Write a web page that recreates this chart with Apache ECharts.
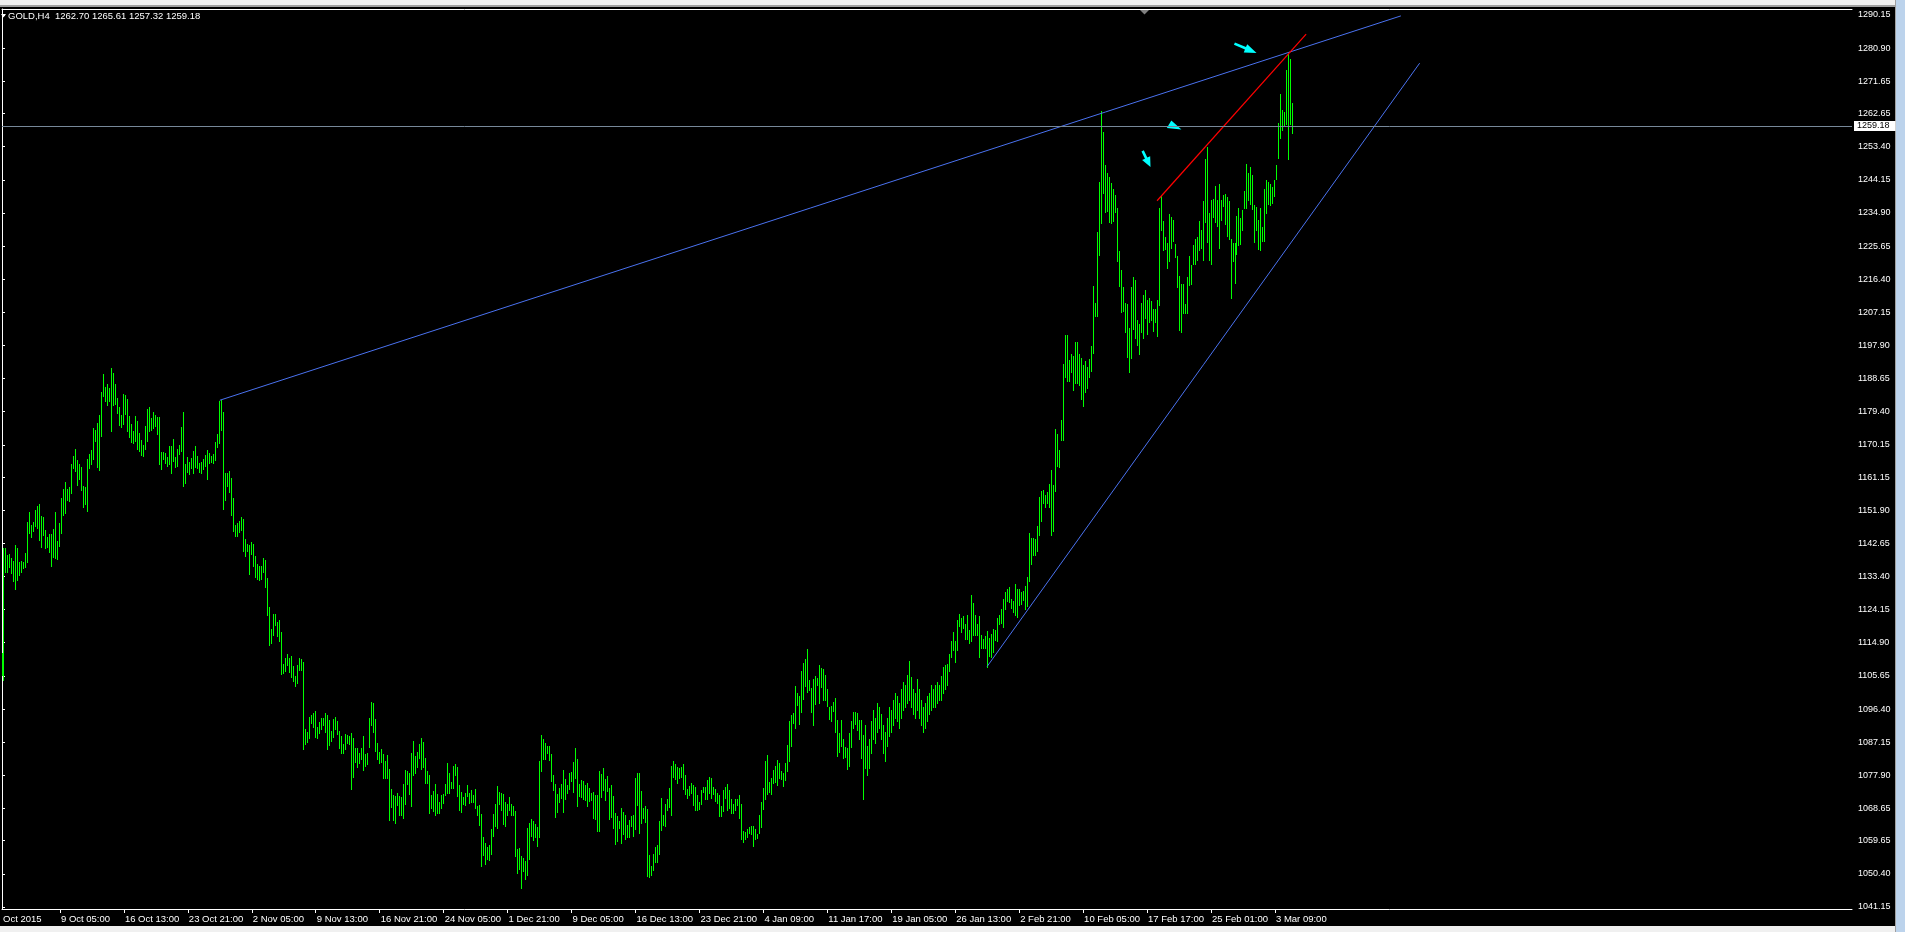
<!DOCTYPE html>
<html><head><meta charset="utf-8">
<script src="https://cdn.jsdelivr.net/npm/echarts@6/dist/echarts.min.js"></script>
<style>html,body{margin:0;padding:0;background:#000;overflow:hidden}#c{width:1905px;height:932px}</style>
</head><body><div id="c"></div>
<script>
// ---------- DATA ----------
const symbolName = 'GOLD,H4';
const lastBarOHLC = [1262.70, 1265.61, 1257.32, 1259.18];
const bidPrice = 1259.18;

// H4 bar highs / lows, bar index 0 = first visible bar
const highs = [
1111.9,1141.3,1141.3,1139.4,1139.7,1138.5,1137.7,1142.2,1141.4,1137.4,
1137.7,1137.4,1140.0,1148.6,1151.4,1147.8,1148.5,1152.0,1153.1,1153.6,
1150.3,1150.0,1146.4,1144.3,1145.3,1145.3,1146.7,1151.4,1143.3,1148.3,
1155.3,1157.8,1159.8,1157.8,1158.4,1164.8,1166.9,1169.0,1165.9,1164.8,
1164.0,1158.7,1158.4,1166.2,1167.6,1168.7,1174.9,1174.3,1176.3,1178.5,
1184.9,1189.9,1186.3,1187.1,1186.0,1191.6,1190.2,1187.1,1183.2,1180.7,
1178.5,1184.3,1184.1,1183.0,1178.2,1176.0,1174.0,1178.2,1176.8,1173.5,
1171.5,1170.1,1175.4,1180.2,1180.7,1177.6,1179.3,1178.5,1177.9,1177.9,
1168.2,1168.2,1167.9,1166.8,1169.8,1169.8,1171.8,1166.8,1169.0,1170.1,
1175.1,1179.3,1164.8,1166.8,1165.4,1166.5,1168.4,1169.8,1167.0,1165.1,
1165.4,1166.2,1167.3,1168.7,1167.9,1167.0,1167.6,1170.9,
1173.2,1182.5,1182.7,1179.3,1162.3,1162.3,1162.8,1160.9,1155.3,1147.8,
1148.3,1148.9,1150.0,1149.4,1143.9,1142.5,1142.2,1143.0,1142.5,1139.1,
1136.9,1136.3,1136.3,1138.6,1138.0,1133.0,1124.9,1118.7,1122.9,1122.9,
1120.7,1121.3,1117.9,1109.0,1110.6,1111.8,1110.6,1111.2,1108.4,1105.6,
1108.7,1110.6,1110.4,1109.5,1090.8,1090.0,1094.2,1094.7,1095.3,1095.8,
1091.4,1092.8,1093.9,1093.9,1095.3,1094.7,1093.3,1090.3,1093.6,1094.2,
1093.1,1090.3,1088.9,1086.6,1089.4,1089.1,1088.9,1089.7,1088.3,1085.5,
1085.5,1084.1,1085.5,1088.9,1083.8,1084.1,1093.9,1098.4,1098.1,1093.6,
1086.9,1084.5,1085.2,1083.9,1082.0,1083.7,1079.7,1074.2,1072.5,1072.1,
1073.0,1072.2,1071.9,1075.6,1079.4,1079.2,1078.4,1084.2,1087.6,1083.4,
1084.5,1086.7,1088.4,1087.3,1082.8,1079.2,1078.1,1072.5,
1073.5,1075.5,1072.7,1070.4,1072.4,1072.7,1075.5,1081.3,1078.5,1076.0,
1080.5,1081.1,1080.2,1075.2,1073.2,1071.8,1073.0,1075.2,1073.0,1073.8,
1072.4,1074.1,1069.3,1069.6,1067.1,1060.7,1059.0,1057.9,1058.4,1062.9,
1067.1,1069.9,1074.9,1073.2,1073.0,1072.7,1070.4,1069.9,1071.8,1069.9,
1069.3,1067.9,1057.3,1057.6,1055.4,1054.8,1054.0,1063.2,1064.6,1065.7,
1065.1,1064.3,1063.5,1081.9,1089.2,1088.0,1086.9,1086.1,1086.1,1083.8,
1078.0,1075.5,1072.7,1074.4,1075.5,1079.4,1076.9,1075.2,1078.5,1078.8,
1081.6,1085.5,1082.5,1075.5,1076.6,1076.3,1075.2,1075.8,1074.4,1073.0,
1073.2,1072.4,1072.4,1079.1,1078.3,1079.9,1076.9,1077.7,1074.4,1075.2,
1072.1,1067.4,1066.5,1065.1,1068.8,1067.7,1066.8,1064.0,1065.4,1066.5,
1066.8,1077.1,1078.5,1078.5,1073.5,1068.8,1069.3,1068.5,
1055.6,1052.6,1055.9,1057.9,1058.4,1065.1,1071.6,1066.8,1069.9,1071.3,
1074.4,1080.5,1081.9,1081.0,1080.2,1079.9,1080.2,1081.0,1078.0,1074.1,
1074.9,1075.7,1075.2,1074.6,1072.4,1070.4,1073.8,1074.6,1074.6,1076.6,
1077.4,1077.1,1074.6,1074.1,1073.0,1072.4,1069.3,1073.8,1074.6,1075.5,
1073.8,1071.3,1069.9,1071.3,1071.3,1072.4,1069.9,1062.3,1062.1,1062.9,
1063.5,1063.7,1063.7,1062.9,1061.5,1066.8,1070.4,1074.4,1081.9,1083.6,
1076.0,1077.1,1079.4,1080.5,1082.2,1081.3,1079.1,1078.5,1081.3,1086.4,
1093.1,1094.7,1095.3,1102.8,1100.9,1100.0,1107.0,1109.3,1110.4,1113.2,
1104.5,1102.3,1104.8,1105.6,1105.1,1108.7,1107.9,1107.6,1105.9,1102.0,
1097.0,1097.2,1098.4,1099.5,1093.3,1089.7,1093.3,1088.0,1085.8,1085.5,
1089.7,1093.1,1095.6,1095.6,1095.3,1093.3,1093.3,1089.2,
1092.0,1086.0,1088.0,1093.0,1096.0,1094.0,1098.0,1097.0,1095.0,1092.0,
1090.0,1094.0,1097.0,1096.0,1099.0,1101.0,1100.0,1098.0,1102.0,1104.0,
1103.0,1106.0,1109.8,1105.3,1102.0,1101.0,1104.8,1102.0,1099.0,1097.0,
1098.0,1100.0,1101.0,1103.0,1102.0,1103.0,1104.0,1103.0,1105.6,1108.1,
1108.7,1109.0,1111.8,
1115.4,1117.9,1115.4,1121.3,1122.9,1121.8,1122.4,1120.1,1122.7,1118.5,
1128.2,1126.0,1122.7,1120.1,1122.4,1117.1,1116.0,1116.8,1118.2,1116.2,
1117.3,1118.7,1118.5,1121.8,1122.7,1124.3,1127.1,1129.1,1129.9,1130.5,
1127.1,1126.6,1131.3,1129.9,1129.9,1129.1,1129.4,1130.7,1133.3,1145.5,
1144.2,1144.2,1143.9,1147.5,1155.6,1157.3,1157.6,1156.2,1157.0,1159.2,
1163.1,1158.9,1174.6,1173.2,1168.7,1177.1,1192.7,1200.8,1200.8,1193.8,
1195.5,1195.0,1198.9,1198.9,1195.5,
1194.4,1192.4,1193.6,1191.9,1194.1,1197.7,1214.5,1209.7,1229.6,1243.5,
1263.4,1257.5,1248.3,1246.0,1244.9,1243.2,1241.6,1239.9,1236.3,1224.3,
1219.0,1214.2,1209.7,1209.5,1202.8,1214.2,1217.0,1216.2,1205.0,1203.9,
1209.7,1212.0,1213.4,1210.6,1211.1,1210.3,1208.1,1208.1,1210.6,1236.3,
1239.6,1232.6,1228.2,1226.5,1234.6,1233.8,1232.9,1226.2,1222.9,1217.3,
1215.1,1215.1,1209.5,1217.0,1222.9,1220.4,1225.9,1227.6,1228.2,1232.6,
1230.1,1238.2,1250.0,1253.3,1234.9,1238.5,1238.8,1242.4,1238.5,1243.0,
1238.5,1239.9,1240.2,1239.3,1238.2,1227.6,1226.5,1226.5,1234.0,1236.3,
1233.5,1235.7,1241.0,1248.6,1246.0,1247.7,1245.5,1237.1,1236.6,1232.9,
1236.3,1231.0,1241.6,1244.1,1243.5,1243.0,1242.1,1244.1,1248.3,1260.0,
1268.1,1263.6,1263.1,1274.8,1279.3,1277.9,1265.6
];
const lows = [
1105.9,1104.5,1134.7,1134.7,1136.1,1134.5,1132.2,1130.0,1132.4,1133.8,
1134.7,1135.7,1136.1,1137.5,1145.6,1144.5,1146.2,1147.5,1146.8,1143.6,
1141.7,1145.0,1141.4,1141.7,1140.3,1136.3,1138.7,1138.5,1138.3,1142.0,
1145.4,1150.6,1151.1,1154.8,1154.4,1156.8,1163.7,1162.8,1158.9,1160.6,
1157.5,1152.8,1153.6,1151.7,1163.7,1164.8,1166.2,1171.3,1164.0,1163.1,
1172.6,1183.8,1182.4,1181.3,1182.4,1174.0,1181.3,1181.6,1179.0,1175.7,
1175.1,1176.0,1178.8,1174.0,1172.3,1170.9,1170.7,1171.2,1169.0,1168.4,
1167.3,1167.0,1169.0,1171.2,1174.0,1174.3,1174.9,1175.4,1173.2,1164.8,
1163.4,1166.2,1165.1,1164.2,1164.8,1162.3,1165.6,1164.0,1164.2,1167.6,
1168.4,1158.7,1159.5,1162.6,1162.0,1163.7,1162.3,1164.0,1163.7,1162.6,
1162.3,1163.4,1164.2,1160.6,1165.1,1165.4,1165.1,1165.9,
1169.6,1170.8,1174.3,1152.3,1154.8,1158.7,1157.0,1150.7,1146.2,1144.8,
1144.8,1145.8,1146.4,1140.5,1139.2,1140.6,1134.2,1139.8,1136.4,1133.3,
1132.8,1132.5,1132.8,1134.7,1130.6,1122.7,1114.4,1114.9,1117.2,1119.9,
1116.9,1115.5,1106.3,1106.5,1107.1,1108.7,1106.7,1105.4,1104.2,1102.9,
1103.8,1107.4,1107.4,1085.3,1086.7,1087.3,1088.4,1092.6,1091.5,1088.7,
1088.4,1089.8,1090.9,1091.8,1090.1,1085.3,1086.4,1087.6,1088.7,1090.9,
1089.5,1085.6,1084.2,1084.2,1085.3,1087.0,1086.7,1074.2,1077.5,1081.7,
1080.3,1081.4,1082.5,1079.5,1080.6,1081.1,1085.9,1092.0,1090.1,1084.8,
1082.5,1081.4,1081.7,1077.2,1077.2,1077.2,1065.5,1069.1,1065.5,1064.7,
1069.7,1066.9,1066.7,1066.1,1070.0,1075.6,1072.8,1069.4,1078.1,1078.6,
1080.3,1082.8,1079.7,1080.3,1075.8,1075.8,1067.5,1068.9,
1067.9,1066.8,1067.4,1067.4,1068.8,1070.2,1072.4,1073.0,1073.0,1074.4,
1074.4,1078.0,1072.1,1068.2,1067.7,1069.9,1069.6,1072.1,1070.2,1070.4,
1070.4,1068.8,1066.8,1064.0,1052.6,1055.6,1053.1,1054.5,1054.3,1055.9,
1061.0,1063.7,1063.2,1069.9,1068.2,1064.3,1063.7,1066.8,1068.2,1066.8,
1066.8,1055.4,1050.6,1051.7,1046.4,1051.2,1049.0,1050.1,1054.5,1061.0,
1059.8,1060.7,1058.2,1060.7,1079.1,1082.5,1082.5,1084.1,1082.2,1076.3,
1073.8,1066.3,1067.7,1070.4,1071.6,1067.7,1071.3,1073.0,1074.1,1076.3,
1073.2,1077.1,1069.3,1072.1,1071.8,1071.3,1071.0,1069.3,1070.7,1071.0,
1066.0,1065.7,1062.4,1062.4,1071.8,1073.8,1071.0,1073.5,1065.7,1066.3,
1063.2,1058.7,1059.6,1063.2,1059.0,1061.5,1060.1,1060.7,1060.7,1063.7,
1061.0,1062.9,1069.6,1061.8,1064.6,1066.0,1064.9,1049.8,
1049.6,1050.1,1051.5,1053.7,1053.7,1055.9,1062.6,1064.0,1063.7,1068.2,
1069.0,1066.8,1077.4,1076.9,1075.7,1077.1,1077.4,1074.1,1072.7,1071.6,
1072.4,1073.0,1069.6,1068.2,1068.2,1068.5,1069.9,1073.2,1071.3,1071.3,
1073.0,1071.6,1072.7,1070.7,1070.2,1066.5,1066.5,1067.9,1071.6,1068.2,
1068.8,1067.4,1067.4,1068.2,1069.6,1066.0,1060.1,1059.3,1060.1,1060.7,
1061.8,1061.5,1058.2,1060.1,1060.4,1061.8,1063.5,1068.5,1071.3,1072.7,
1073.2,1072.7,1075.7,1076.0,1075.2,1077.1,1076.9,1074.9,1076.6,1079.1,
1081.9,1086.1,1092.5,1091.1,1097.5,1092.2,1095.6,1099.2,1102.8,1101.2,
1101.7,1095.6,1091.9,1097.8,1103.1,1098.1,1102.5,1098.9,1098.9,1097.2,
1093.6,1093.1,1095.9,1090.0,1083.3,1084.4,1086.1,1082.7,1083.0,1079.7,
1080.5,1085.8,1091.1,1092.2,1090.5,1088.0,1082.7,1071.3,
1080.0,1078.0,1080.0,1084.0,1088.0,1087.0,1090.0,1091.0,1088.0,1084.0,
1082.0,1086.0,1089.0,1090.0,1092.0,1094.0,1093.0,1091.0,1094.0,1096.0,
1097.0,1098.0,1099.0,1097.0,1095.0,1094.0,1096.0,1094.0,1092.0,1090.0,
1091.0,1093.0,1095.0,1096.0,1097.0,1097.0,1098.0,1099.0,1099.0,1101.0,
1102.0,1103.0,1107.0,
1110.9,1112.9,1109.6,1113.0,1119.6,1117.9,1119.0,1116.0,1116.0,1114.9,
1115.5,1117.1,1117.2,1117.2,1111.0,1113.3,1113.3,1113.3,1108.2,1111.3,
1110.8,1112.4,1115.7,1115.5,1120.1,1120.4,1119.3,1124.3,1126.6,1126.3,
1124.6,1123.5,1122.7,1122.2,1125.4,1125.7,1126.8,1124.3,1125.2,1132.2,
1136.9,1139.4,1139.4,1140.5,1145.0,1148.9,1153.9,1152.8,1153.9,1152.8,
1145.0,1146.1,1157.3,1164.3,1164.0,1171.5,1171.5,1189.1,1188.0,1188.0,
1190.5,1185.5,1187.4,1187.4,1186.9,
1183.0,1181.0,1185.0,1186.0,1189.2,1190.9,1195.7,1206.1,1206.1,1223.1,
1232.1,1240.5,1235.2,1235.4,1232.4,1232.1,1232.6,1235.2,1221.5,1214.5,
1207.2,1207.5,1201.6,1194.7,1190.5,1194.4,1202.5,1200.0,1198.0,1195.5,
1201.6,1200.0,1205.6,1201.1,1204.4,1205.0,1201.9,1204.4,1200.5,1209.2,
1230.1,1224.5,1224.8,1219.5,1221.5,1225.1,1227.1,1222.6,1214.2,1202.2,
1201.6,1207.0,1207.0,1207.0,1214.8,1215.1,1220.6,1220.6,1221.8,1224.5,
1225.1,1221.8,1232.4,1226.8,1221.8,1220.6,1233.8,1232.4,1231.2,1225.1,
1232.9,1236.8,1231.8,1228.5,1227.6,1211.1,1221.5,1215.3,1223.4,1225.9,
1226.2,1230.1,1236.3,1236.3,1238.5,1237.4,1236.0,1226.8,1230.1,1224.8,
1224.5,1227.1,1227.1,1234.9,1237.4,1237.2,1237.7,1239.6,1244.4,1250.2,
1255.8,1258.0,1259.2,1259.7,1250.0,1259.7,1257.3
];

// time axis labels (bar index -> label)
const timeLabelBars = [29,61,93,125,157,189,221,253,285,317,349,381,413,445,477,509,541,573,605,637];
const timeLabels = ['9 Oct 05:00','16 Oct 13:00','23 Oct 21:00','2 Nov 05:00','9 Nov 13:00','16 Nov 21:00',
  '24 Nov 05:00','1 Dec 21:00','9 Dec 05:00','16 Dec 13:00','23 Dec 21:00','4 Jan 09:00','11 Jan 17:00',
  '19 Jan 05:00','26 Jan 13:00','2 Feb 21:00','10 Feb 05:00','17 Feb 17:00','25 Feb 01:00','3 Mar 09:00'];
const firstTimeLabel = 'Oct 2015';

// price axis labels
const priceTicks = [1290.15,1280.90,1271.65,1262.65,1253.40,1244.15,1234.90,1225.65,1216.40,1207.15,
  1197.90,1188.65,1179.40,1170.15,1161.15,1151.90,1142.65,1133.40,1124.15,1114.90,1105.65,1096.40,
  1087.15,1077.90,1068.65,1059.65,1050.40,1041.15];

// drawn objects: trend lines [barIndex, price]
const upperTrend = [[109, 1182.6], [700, 1289.9]];
const lowerTrend = [[493, 1108.3], [709.4, 1276.7]];
const redTrend = [[578, 1238.3], [652.6, 1284.8]];
// arrow objects
const arrowBars = [622.25, 586.4, 572.75];
const arrowPrices = [1280.85, 1259.44, 1249.95];
const arrowKinds = ['se', 'wedge', 'down'];

// ---------- CHART ----------
const FONT = '"Liberation Sans", Arial, sans-serif';
const chart = echarts.init(document.getElementById('c'), null, {renderer: 'canvas'});
const labelMap = {0: firstTimeLabel};
timeLabelBars.forEach((b, i) => labelMap[b] = timeLabels[i]);

function arrowPoly(cx, cy, L, h, w, t, angDeg) {
  const a = angDeg * Math.PI / 180, c = Math.cos(a), s = Math.sin(a);
  const pts = [[-L/2,-t],[L/2-h,-t],[L/2-h,-w],[L/2,0],[L/2-h,w],[L/2-h,t],[-L/2,t]];
  return pts.map(([x, y]) => [cx + x*c - y*s, cy + x*s + y*c]);
}

const barData = highs.map((h, i) => [i, h, lows[i]]);

chart.setOption({
  backgroundColor: '#000',
  animation: false,
  title: {
    text: symbolName + '  ' + lastBarOHLC.map(v => v.toFixed(2)).join(' '),
    left: 8, top: 11, padding: 0,
    textStyle: {color: '#fff', fontSize: 9.5, fontWeight: 'normal', fontFamily: FONT}
  },
  grid: {left: 0.5, top: 9, width: 1851.5, height: 900, containLabel: false, show: false},
  xAxis: [{
    type: 'value', min: 0, max: 925.75, position: 'bottom',
    axisLine: {show: true, lineStyle: {color: '#fff', width: 1}},
    axisTick: {show: true, customValues: timeLabelBars, length: 4, lineStyle: {color: '#fff'}},
    axisLabel: {show: true, customValues: [0].concat(timeLabelBars),
      formatter: v => labelMap[Math.round(v)] || '', color: '#fff', fontSize: 9.5, fontFamily: FONT,
      align: 'left', margin: 5, padding: [0, 0, 0, 1]},
    splitLine: {show: false}
  }, {
    type: 'value', min: 0, max: 925.75, position: 'top',
    axisLine: {show: true, lineStyle: {color: '#fff', width: 1}},
    axisTick: {show: false}, axisLabel: {show: false}, splitLine: {show: false}
  }],
  yAxis: {
    type: 'value', position: 'right', min: 1040.57, max: 1291.825,
    axisLine: {show: true, lineStyle: {color: '#fff', width: 1}},
    axisTick: {show: true, customValues: priceTicks, length: 3, lineStyle: {color: '#fff'}},
    axisLabel: {customValues: priceTicks, formatter: v => v.toFixed(2), color: '#fff',
      fontSize: 9, fontFamily: FONT, margin: 6, align: 'left'},
    splitLine: {show: false}
  },
  graphic: [
    {type: 'rect', shape: {x: 0, y: 0, width: 1905, height: 5}, style: {fill: '#f0f0f0'}, silent: true},
    {type: 'rect', shape: {x: 0, y: 5, width: 1905, height: 2}, style: {fill: '#a0a0a0'}, silent: true},
    {type: 'rect', shape: {x: 0, y: 926, width: 1905, height: 6}, style: {fill: '#f0f0f0'}, silent: true},
    {type: 'rect', shape: {x: 1895, y: 0, width: 1, height: 932}, style: {fill: '#a0a0a0'}, silent: true},
    {type: 'rect', shape: {x: 1896, y: 0, width: 9, height: 932}, style: {fill: '#bcd3ec'}, silent: true},
    {type: 'polygon', shape: {points: [[1,14],[6,14],[3.5,17.5]]}, style: {fill: '#fff'}, silent: true},
    {type: 'polygon', shape: {points: [[1140,10],[1149,10],[1144.5,14.5]]}, style: {fill: '#808080'}, silent: true}
  ],
  series: [
    {
      type: 'custom', name: 'bars', data: barData, encode: {x: 0, y: [1, 2]}, z: 2, silent: true,
      renderItem: function (params, api) {
        const i = api.value(0);
        const top = api.coord([i, api.value(1)]);
        const bot = api.coord([i, api.value(2)]);
        const x = Math.floor(top[0]);
        const y1 = Math.round(top[1]), y2 = Math.round(bot[1]);
        return {type: 'rect', shape: {x: x, y: y1, width: 1, height: Math.max(1, y2 - y1 + 1)},
          style: {fill: '#00ff00'}};
      },
      markLine: {
        silent: true, symbol: ['none', 'none'], animation: false,
        data: [{yAxis: bidPrice}],
        lineStyle: {color: '#778899', width: 1, type: 'solid'},
        label: {show: true, position: 'end', formatter: bidPrice.toFixed(2), color: '#000',
          backgroundColor: '#fff', fontSize: 9, fontFamily: FONT, padding: [1, 6, 0, 3], distance: 2}
      }
    },
    {type: 'line', data: upperTrend, showSymbol: false, symbol: 'none', silent: true, z: 3,
      lineStyle: {color: '#4a72f0', width: 1}},
    {type: 'line', data: lowerTrend, showSymbol: false, symbol: 'none', silent: true, z: 3,
      lineStyle: {color: '#4a72f0', width: 1}},
    {type: 'line', data: redTrend, showSymbol: false, symbol: 'none', silent: true, z: 3,
      lineStyle: {color: '#ff0000', width: 1.2}},
    {
      type: 'custom', name: 'arrows', silent: true, z: 4,
      data: arrowBars.map((b, i) => [b, arrowPrices[i], i]),
      renderItem: function (params, api) {
        const c = api.coord([api.value(0), api.value(1)]);
        const kind = arrowKinds[api.value(2)];
        let pts;
        if (kind === 'se') pts = arrowPoly(c[0], c[1], 24, 12, 4.5, 1.3, 23);
        else if (kind === 'down') pts = arrowPoly(c[0], c[1], 18, 10, 4.5, 1.3, 64);
        else pts = [[-2.5,-4.5],[-7,3],[7.5,4.5]].map(p => [c[0] + p[0], c[1] + p[1]]);
        return {type: 'polygon', shape: {points: pts}, style: {fill: '#00ffff'}};
      }
    }
  ]
});
</script>
</body></html>
